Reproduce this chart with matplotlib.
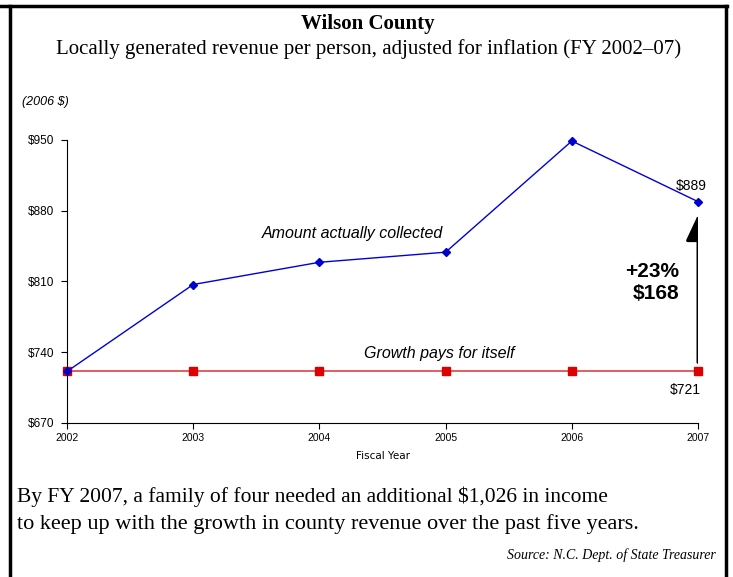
import matplotlib.pyplot as plt
from matplotlib.patches import FancyArrowPatch

years = [2002, 2003, 2004, 2005, 2006, 2007]
collected = [721, 807, 829, 839, 949, 889]
growth = [721, 721, 721, 721, 721, 721]
yticks = [670, 740, 810, 880, 950]

fig = plt.figure(figsize=(7.33, 5.77), dpi=100)
ax = fig.add_axes([0.0914, 0.2669, 0.8609, 0.4905])

ax.plot(years, growth, color='#e05050', lw=1.3, marker='s', ms=6,
        mfc='#dd0000', mec='#dd0000', zorder=2, clip_on=False)
ax.plot(years, collected, color='#0000dd', lw=1.0, marker='D', ms=4,
        mfc='#0000cc', mec='#0000cc', zorder=3, clip_on=False)

ax.set_xlim(2002, 2007)
ax.set_ylim(670, 950)
ax.set_xticks(years)
ax.set_yticks(yticks)
ax.set_yticklabels(['$%d' % v for v in yticks])
for s in ['top', 'right']:
    ax.spines[s].set_visible(False)
ax.spines['left'].set_linewidth(0.8)
ax.spines['bottom'].set_linewidth(0.8)
ax.tick_params(axis='x', direction='out', length=4, width=0.8, labelsize=7.5, pad=3)
ax.tick_params(axis='y', direction='out', length=4, width=0.8, labelsize=8.5, pad=5)
for lab in ax.get_xticklabels() + ax.get_yticklabels():
    lab.set_family('Liberation Sans')
ax.set_xlabel('Fiscal Year', fontsize=7.5, family='Liberation Sans Narrow', labelpad=6)

sans = 'Liberation Sans'
ax.text(2004.26, 857, 'Amount actually collected', fontsize=11.5, style='italic',
        family=sans, ha='center', va='center')
ax.text(2004.95, 731, 'Growth pays for itself', fontsize=11.5, style='italic',
        family=sans, ha='center', va='bottom')
ax.text(2006.95, 904, '$889', fontsize=10, family=sans, ha='center', va='center')
ax.text(2006.9, 703, '$721', fontsize=10, family=sans, ha='center', va='center')
ax.text(2006.85, 809, '+23%\n$168', fontsize=15, fontweight='bold', family=sans,
        ha='right', va='center', linespacing=1.15)

arr = FancyArrowPatch((2007, 730), (2007, 876), arrowstyle='-|>,head_length=16,head_width=7.5',
                      lw=2.2, color='black', mutation_scale=1, shrinkA=0, shrinkB=0, zorder=4)
ax.add_patch(arr)

serif = 'Liberation Serif'
fig.text(0.502, 0.950, 'Wilson County', fontsize=15, fontweight='bold', family=serif,
         ha='center', va='baseline')
fig.text(0.503, 0.906, 'Locally generated revenue per person, adjusted for inflation (FY 2002\u201307)',
         fontsize=15, family=serif, ha='center', va='baseline')
fig.text(0.030, 0.823, '(2006 $)', fontsize=9, style='italic', family=sans, va='center')
fig.text(0.023, 0.139, 'By FY 2007, a family of four needed an additional $1,026 in income',
         fontsize=15.5, family=serif, va='center')
fig.text(0.023, 0.092, 'to keep up with the growth in county revenue over the past five years.',
         fontsize=16, family=serif, va='center')
fig.text(0.977, 0.038, 'Source: N.C. Dept. of State Treasurer', fontsize=10, style='italic',
         family=serif, ha='right', va='center')

# frame
tf = fig.transFigure
fig.add_artist(plt.Line2D([0.013, 0.013], [0, 0.99], color='black', lw=2.5, transform=tf))
fig.add_artist(plt.Line2D([0.9898, 0.9898], [0, 0.99], color='black', lw=2.5, transform=tf))
fig.add_artist(plt.Line2D([0, 0.9915], [0.9896, 0.9896], color='black', lw=2.5, transform=tf))

fig.savefig('out.png', dpi=100)
